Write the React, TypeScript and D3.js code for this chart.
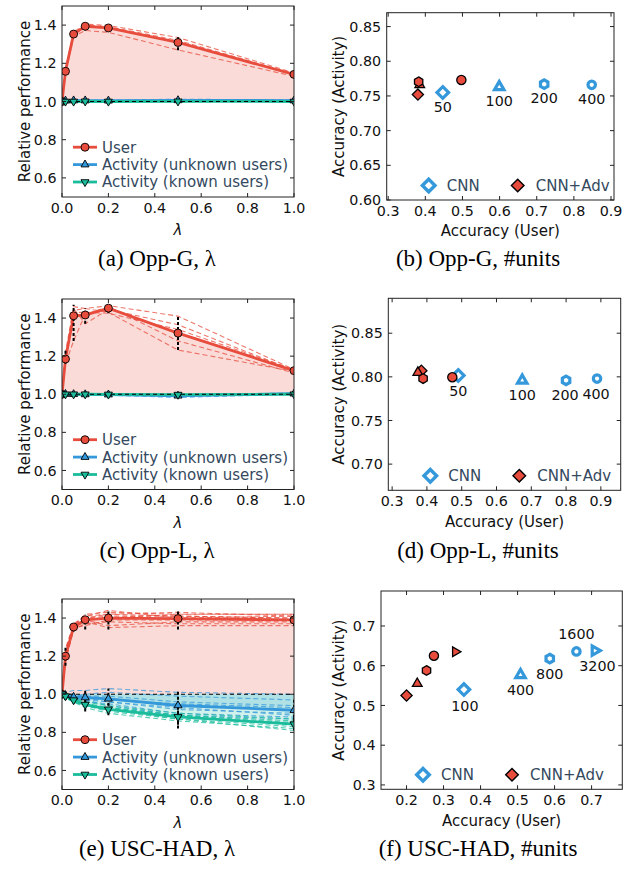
import React from "react";
import * as d3 from "d3";

// ---------------- data ----------------
const LAMBDAS = [0, 0.015, 0.05, 0.1, 0.2, 0.5, 1.0];
const LAMBDA_TICKS = [0, 0.2, 0.4, 0.6, 0.8, 1.0];
const REL_TICKS = [0.6, 0.8, 1.0, 1.2, 1.4];
const LINE_LEGEND = ["User", "Activity (unknown users)", "Activity (known users)"];
const SCATTER_LEGEND = ["CNN", "CNN+Adv"];

// (a) Opp-G, lambda
const A_USER = [1.0, 1.158, 1.353, 1.394, 1.385, 1.309, 1.142];
const A_USER_LO = [1.0, 1.14, 1.335, 1.372, 1.37, 1.268, 1.135];
const A_USER_HI = [1.0, 1.18, 1.37, 1.405, 1.398, 1.338, 1.15];
const A_USER_RUNS = [
  [1.0, 1.17, 1.365, 1.405, 1.398, 1.335, 1.15],
  [1.0, 1.145, 1.34, 1.372, 1.362, 1.27, 1.132],
  [1.0, 1.16, 1.355, 1.4, 1.392, 1.32, 1.145],
];
const A_UNK = [1.0, 1.004, 1.005, 1.005, 1.004, 1.006, 1.005];
const A_UNK_LO = [1.0, 0.998, 0.999, 0.999, 0.999, 0.996, 1.0];
const A_UNK_HI = [1.0, 1.01, 1.011, 1.01, 1.009, 1.016, 1.01];
const A_UNK_RUNS = [
  [1.0, 1.008, 1.009, 1.008, 1.007, 1.012, 1.008],
  [1.0, 1.0, 1.001, 1.002, 1.001, 1.0, 1.002],
];
const A_KNOWN = [1.0, 1.0, 1.0, 1.001, 1.0, 1.001, 1.0];
const A_KNOWN_LO = [1.0, 0.997, 0.998, 0.998, 0.997, 0.996, 0.998];
const A_KNOWN_HI = [1.0, 1.003, 1.002, 1.004, 1.003, 1.006, 1.002];
const A_KNOWN_RUNS = [
  [1.0, 1.002, 1.001, 1.003, 1.002, 1.004, 1.001],
  [1.0, 0.998, 0.999, 0.999, 0.998, 0.998, 0.999],
];

// (c) Opp-L, lambda
const C_USER = [1.0, 1.185, 1.412, 1.416, 1.452, 1.321, 1.124];
const C_USER_LO = [1.0, 1.16, 1.28, 1.37, 1.425, 1.232, 1.112];
const C_USER_HI = [1.0, 1.23, 1.47, 1.452, 1.47, 1.412, 1.132];
const C_USER_RUNS = [
  [1.0, 1.22, 1.46, 1.45, 1.465, 1.41, 1.13],
  [1.0, 1.18, 1.45, 1.37, 1.445, 1.365, 1.125],
  [1.0, 1.16, 1.28, 1.42, 1.46, 1.28, 1.112],
  [1.0, 1.19, 1.44, 1.45, 1.43, 1.232, 1.12],
  [1.0, 1.175, 1.43, 1.43, 1.425, 1.34, 1.13],
];
const C_UNK = [1.0, 1.001, 1.0, 0.999, 0.998, 0.992, 1.003];
const C_UNK_LO = [1.0, 0.995, 0.994, 0.993, 0.992, 0.98, 0.998];
const C_UNK_HI = [1.0, 1.006, 1.006, 1.005, 1.004, 1.003, 1.008];
const C_UNK_RUNS = [
  [1.0, 1.003, 1.002, 0.996, 0.995, 0.983, 1.0],
  [1.0, 0.999, 0.998, 1.001, 1.0, 0.998, 1.006],
];
const C_KNOWN = [1.0, 1.0, 1.0, 1.0, 0.999, 0.998, 1.0];
const C_KNOWN_LO = [1.0, 0.997, 0.997, 0.996, 0.996, 0.993, 0.997];
const C_KNOWN_HI = [1.0, 1.003, 1.003, 1.004, 1.002, 1.003, 1.003];
const C_KNOWN_RUNS = [
  [1.0, 1.002, 1.001, 1.001, 1.0, 0.996, 1.001],
  [1.0, 0.998, 0.999, 0.999, 0.998, 1.0, 0.999],
];

// (e) USC-HAD, lambda
const E_USER = [1.0, 1.2, 1.353, 1.391, 1.4, 1.397, 1.39];
const E_USER_LO = [1.0, 1.15, 1.33, 1.34, 1.34, 1.34, 1.36];
const E_USER_HI = [1.0, 1.25, 1.37, 1.42, 1.44, 1.44, 1.42];
const E_USER_RUNS = [
  [1.0, 1.22, 1.36, 1.42, 1.43, 1.42, 1.42],
  [1.0, 1.19, 1.35, 1.4, 1.41, 1.41, 1.4],
  [1.0, 1.24, 1.37, 1.41, 1.42, 1.43, 1.41],
  [1.0, 1.17, 1.34, 1.37, 1.38, 1.37, 1.37],
  [1.0, 1.21, 1.36, 1.39, 1.36, 1.38, 1.38],
  [1.0, 1.2, 1.35, 1.38, 1.35, 1.36, 1.36],
  [1.0, 1.18, 1.34, 1.4, 1.42, 1.41, 1.4],
  [1.0, 1.23, 1.36, 1.41, 1.44, 1.4, 1.41],
  [1.0, 1.19, 1.35, 1.36, 1.39, 1.39, 1.39],
  [1.0, 1.22, 1.36, 1.39, 1.4, 1.42, 1.42],
];
const E_UNK = [1.0, 0.995, 0.986, 0.983, 0.976, 0.941, 0.916];
const E_UNK_LO = [1.0, 0.97, 0.96, 0.95, 0.94, 0.84, 0.85];
const E_UNK_HI = [1.0, 1.02, 1.01, 1.02, 1.03, 1.02, 0.98];
const E_UNK_RUNS = [
  [1.0, 1.01, 1.02, 1.02, 1.03, 1.01, 1.0],
  [1.0, 1.0, 0.99, 1.0, 1.01, 0.99, 0.97],
  [1.0, 0.99, 0.98, 0.98, 0.97, 0.95, 0.93],
  [1.0, 0.99, 0.98, 0.97, 0.96, 0.92, 0.9],
  [1.0, 0.98, 0.97, 0.96, 0.95, 0.9, 0.88],
  [1.0, 1.0, 1.0, 0.99, 0.99, 0.96, 0.94],
  [1.0, 0.99, 0.99, 0.98, 0.96, 0.93, 0.89],
  [1.0, 1.0, 0.98, 0.97, 0.94, 0.89, 0.87],
];
const E_KNOWN = [1.0, 0.99, 0.969, 0.946, 0.921, 0.881, 0.843];
const E_KNOWN_LO = [1.0, 0.97, 0.95, 0.91, 0.89, 0.82, 0.81];
const E_KNOWN_HI = [1.0, 1.01, 0.99, 0.97, 0.95, 0.93, 0.88];
const E_KNOWN_RUNS = [
  [1.0, 0.99, 0.98, 0.96, 0.94, 0.9, 0.87],
  [1.0, 0.99, 0.97, 0.95, 0.93, 0.89, 0.86],
  [1.0, 0.98, 0.96, 0.94, 0.91, 0.87, 0.83],
  [1.0, 0.99, 0.97, 0.94, 0.92, 0.88, 0.84],
  [1.0, 0.98, 0.96, 0.93, 0.9, 0.86, 0.82],
  [1.0, 1.0, 0.98, 0.95, 0.93, 0.89, 0.85],
  [1.0, 0.99, 0.96, 0.94, 0.92, 0.87, 0.81],
];

// (b) Opp-G, #units
const B_UNITS = ["50", "100", "200", "400"];
const B_CNN_X = [0.447, 0.599, 0.72, 0.848];
const B_CNN_Y = [0.755, 0.763, 0.767, 0.766];
const B_ADV_X = [0.38, 0.385, 0.382, 0.497];
const B_ADV_Y = [0.752, 0.766, 0.7705, 0.773];
const B_X_TICKS = [0.3, 0.4, 0.5, 0.6, 0.7, 0.8, 0.9];
const B_Y_TICKS = [0.6, 0.65, 0.7, 0.75, 0.8, 0.85];

// (d) Opp-L, #units
const D_UNITS = ["50", "100", "200", "400"];
const D_CNN_X = [0.49, 0.674, 0.8, 0.889];
const D_CNN_Y = [0.8015, 0.796, 0.796, 0.798];
const D_ADV_X = [0.384, 0.374, 0.389, 0.473];
const D_ADV_Y = [0.807, 0.805, 0.798, 0.7995];
const D_X_TICKS = [0.3, 0.4, 0.5, 0.6, 0.7, 0.8, 0.9];
const D_Y_TICKS = [0.7, 0.75, 0.8, 0.85];

// (f) USC-HAD, #units
const F_UNITS = ["100", "400", "800", "1600", "3200"];
const F_CNN_X = [0.355, 0.508, 0.587, 0.659, 0.709];
const F_CNN_Y = [0.54, 0.577, 0.618, 0.636, 0.638];
const F_ADV_X = [0.2, 0.229, 0.254, 0.274, 0.332];
const F_ADV_Y = [0.525, 0.555, 0.588, 0.625, 0.635];
const F_X_TICKS = [0.2, 0.3, 0.4, 0.5, 0.6, 0.7];
const F_Y_TICKS = [0.3, 0.4, 0.5, 0.6, 0.7];

const SHAPES4 = ["diamond", "triangle", "hexagon", "circle"];
const SHAPES5 = ["diamond", "triangle", "hexagon", "circle", "triright"];

// ---------------- style ----------------
const RED = "#e74c3c";
const BLUE = "#3498db";
const TEAL = "#1abc9c";
const LEG_TEXT = "#34495e";
const SANS = "DejaVu Sans";
const SERIF = "Liberation Serif";
const TICK_FS = 14.3;
const LABEL_FS = 15;

function shapePath(shape: string, r: number): string {
  const s = 0.8660254;
  switch (shape) {
    case "circle":
      return `M${r},0A${r},${r} 0 1,1 ${-r},0A${r},${r} 0 1,1 ${r},0Z`;
    case "diamond":
      return `M0,${-r}L${r},0L0,${r}L${-r},0Z`;
    case "triangle":
      return `M0,${-r}L${r * s},${r * 0.5}L${-r * s},${r * 0.5}Z`;
    case "tridown":
      return `M0,${r}L${r * s},${-r * 0.5}L${-r * s},${-r * 0.5}Z`;
    case "triright":
      return `M${r},0L${-r * 0.5},${r * s}L${-r * 0.5},${-r * s}Z`;
    case "hexagon": {
      const pts = d3.range(6).map((k) => {
        const a = -Math.PI / 2 + (k * Math.PI) / 3;
        return `${r * Math.cos(a)},${r * Math.sin(a)}`;
      });
      return `M${pts.join("L")}Z`;
    }
  }
  return "";
}

function Frame({ x0, x1, y0, y1 }: { x0: number; x1: number; y0: number; y1: number }) {
  return <rect x={x0} y={y0} width={x1 - x0} height={y1 - y0} fill="none" stroke="#222" strokeWidth={1} />;
}

function Ticks(props: {
  x0: number; x1: number; y0: number; y1: number;
  xs: d3.ScaleLinear<number, number>; ys: d3.ScaleLinear<number, number>;
  xTicks: number[]; yTicks: number[]; xFmt: (v: number) => string; yFmt: (v: number) => string;
}) {
  const { x0, x1, y0, y1, xs, ys } = props;
  const L = 4;
  return (
    <g>
      {props.xTicks.map((t, i) => (
        <g key={"x" + i}>
          <line x1={xs(t)} x2={xs(t)} y1={y1} y2={y1 - L} stroke="#222" />
          <line x1={xs(t)} x2={xs(t)} y1={y0} y2={y0 + L} stroke="#222" />
          <text x={xs(t)} y={y1 + 15.5} textAnchor="middle" fontFamily={SANS} fontSize={TICK_FS} fill="#111">
            {props.xFmt(t)}
          </text>
        </g>
      ))}
      {props.yTicks.map((t, i) => (
        <g key={"y" + i}>
          <line x1={x0} x2={x0 + L} y1={ys(t)} y2={ys(t)} stroke="#222" />
          <line x1={x1} x2={x1 - L} y1={ys(t)} y2={ys(t)} stroke="#222" />
          <text x={x0 - 5.5} y={ys(t)} dy="0.36em" textAnchor="end" fontFamily={SANS} fontSize={TICK_FS} fill="#111">
            {props.yFmt(t)}
          </text>
        </g>
      ))}
    </g>
  );
}

type LineProps = {
  id: string; x0: number; x1: number; y0: number; y1: number;
  user: number[]; userLo: number[]; userHi: number[]; userRuns: number[][];
  unk: number[]; unkLo: number[]; unkHi: number[]; unkRuns: number[][];
  known: number[]; knownLo: number[]; knownHi: number[]; knownRuns: number[][];
};

function LinePanel(p: LineProps) {
  const { x0, x1, y0, y1 } = p;
  const xs = d3.scaleLinear().domain([0, 1]).range([x0, x1]);
  const ys = d3.scaleLinear().domain([0.5, 1.5]).range([y1, y0]);
  const line = d3.line<number>().x((_, i) => xs(LAMBDAS[i])).y((v) => ys(v));
  const area = d3.area<number>().x((_, i) => xs(LAMBDAS[i])).y0(ys(1)).y1((v) => ys(v));
  const series = [
    { vals: p.user, lo: p.userLo, hi: p.userHi, runs: p.userRuns, color: RED, shape: "circle", r: 4 },
    { vals: p.unk, lo: p.unkLo, hi: p.unkHi, runs: p.unkRuns, color: BLUE, shape: "triangle", r: 4.6 },
    { vals: p.known, lo: p.knownLo, hi: p.knownHi, runs: p.knownRuns, color: TEAL, shape: "tridown", r: 4.6 },
  ];
  const clipId = "clip-" + p.id;
  const fmt = d3.format(".1f");
  return (
    <g>
      <defs>
        <clipPath id={clipId}>
          <rect x={x0} y={y0} width={x1 - x0} height={y1 - y0} />
        </clipPath>
      </defs>
      <g clipPath={`url(#${clipId})`}>
        {series.map((s, k) => (
          <path key={"f" + k} d={area(s.vals) || ""} fill={s.color} fillOpacity={0.2} stroke="none" />
        ))}
        {series.map((s, k) =>
          s.runs.map((r, j) => (
            <path key={"r" + k + "-" + j} d={line(r) || ""} fill="none" stroke={s.color} strokeWidth={1.1}
              strokeDasharray="5,3" strokeOpacity={0.75} />
          ))
        )}
        {series.map((s, k) => (
          <path key={"l" + k} d={line(s.vals) || ""} fill="none" stroke={s.color} strokeWidth={2.8} />
        ))}
        <line x1={x0} x2={x1} y1={ys(1)} y2={ys(1)} stroke="#000" strokeWidth={1} strokeDasharray="4,3" />
        {series.map((s, k) =>
          LAMBDAS.map((l, i) =>
            s.hi[i] - s.lo[i] > 0.004 ? (
              <line key={"e" + k + "-" + i} x1={xs(l)} x2={xs(l)} y1={ys(s.lo[i])} y2={ys(s.hi[i])}
                stroke="#000" strokeWidth={2} strokeDasharray="3,2" />
            ) : null
          )
        )}
        {series.map((s, k) =>
          LAMBDAS.map((l, i) => (
            <path key={"m" + k + "-" + i} d={shapePath(s.shape, s.r)}
              transform={`translate(${xs(l)},${ys(s.vals[i])})`} fill={s.color} stroke="#000" strokeWidth={0.9} />
          ))
        )}
      </g>
      <Frame x0={x0} x1={x1} y0={y0} y1={y1} />
      <Ticks x0={x0} x1={x1} y0={y0} y1={y1} xs={xs} ys={ys} xTicks={LAMBDA_TICKS} yTicks={REL_TICKS}
        xFmt={fmt} yFmt={fmt} />
      {series.map((s, k) => {
        const ly = y1 - 15 - 17.4 * (2 - k);
        return (
          <g key={"lg" + k}>
            <line x1={x0 + 11} x2={x0 + 35} y1={ly} y2={ly} stroke={s.color} strokeWidth={2.8} />
            <path d={shapePath(s.shape, s.r)} transform={`translate(${x0 + 23},${ly})`} fill={s.color}
              stroke="#000" strokeWidth={0.9} />
            <text x={x0 + 40} y={ly} dy="0.36em" fontFamily={SANS} fontSize={LABEL_FS} fill={LEG_TEXT}>
              {LINE_LEGEND[k]}
            </text>
          </g>
        );
      })}
      <text transform={`translate(25,${(y0 + y1) / 2}) rotate(-90)`} dy="0.36em" textAnchor="middle"
        fontFamily={SANS} fontSize={LABEL_FS} fill="#111">
        Relative performance
      </text>
      <text x={(x0 + x1) / 2} y={y1 + 33} dy="0.36em" textAnchor="middle" fontFamily={SANS}
        fontStyle="italic" fontSize={LABEL_FS} fill="#111">
        λ
      </text>
    </g>
  );
}

type ScatterProps = {
  id: string; x0: number; x1: number; y0: number; y1: number;
  xDomain: [number, number]; yDomain: [number, number];
  xTicks: number[]; yTicks: number[]; yFmt: string;
  cnnX: number[]; cnnY: number[]; advX: number[]; advY: number[];
  units: string[]; shapes: string[];
  labelOffsets: [number, number][];
};

const CNN_R: Record<string, number> = { diamond: 5.8, triangle: 5.4, hexagon: 4.3, circle: 3.7, triright: 5.4 };
const ADV_R: Record<string, number> = { diamond: 5.6, triangle: 5.6, hexagon: 4.8, circle: 4.6, triright: 5.6 };

function ScatterPanel(p: ScatterProps) {
  const { x0, x1, y0, y1 } = p;
  const xs = d3.scaleLinear().domain(p.xDomain).range([x0, x1]);
  const ys = d3.scaleLinear().domain(p.yDomain).range([y1, y0]);
  const xf = d3.format(".1f");
  const yf = d3.format(p.yFmt);
  const ly = y1 - 14.5;
  return (
    <g>
      {p.cnnX.map((v, i) => (
        <path key={"c" + i} d={shapePath(p.shapes[i], CNN_R[p.shapes[i]])}
          transform={`translate(${xs(v)},${ys(p.cnnY[i])})`} fill="#fff" stroke={BLUE} strokeWidth={3.2} />
      ))}
      {p.advX.map((v, i) => (
        <path key={"a" + i} d={shapePath(p.shapes[i], ADV_R[p.shapes[i]])}
          transform={`translate(${xs(v)},${ys(p.advY[i])})`} fill={RED} stroke="#000" strokeWidth={1.3} />
      ))}
      {p.cnnX.map((v, i) => (
        <text key={"t" + i} x={xs(v) + p.labelOffsets[i][0]} y={ys(p.cnnY[i]) + p.labelOffsets[i][1]} dy="0.36em"
          textAnchor="middle" fontFamily={SANS} fontSize={TICK_FS} fill="#111">
          {p.units[i]}
        </text>
      ))}
      <Frame x0={x0} x1={x1} y0={y0} y1={y1} />
      <Ticks x0={x0} x1={x1} y0={y0} y1={y1} xs={xs} ys={ys} xTicks={p.xTicks} yTicks={p.yTicks}
        xFmt={xf} yFmt={yf} />
      <path d={shapePath("diamond", 6.3)} transform={`translate(${x0 + 42},${ly})`} fill="#fff" stroke={BLUE}
        strokeWidth={3.4} />
      <text x={x0 + 60} y={ly} dy="0.36em" fontFamily={SANS} fontSize={LABEL_FS} fill={LEG_TEXT}>
        {SCATTER_LEGEND[0]}
      </text>
      <path d={shapePath("diamond", 6.3)} transform={`translate(${x0 + 131},${ly})`} fill={RED} stroke="#000"
        strokeWidth={1.4} />
      <text x={x0 + 149} y={ly} dy="0.36em" fontFamily={SANS} fontSize={LABEL_FS} fill={LEG_TEXT}>
        {SCATTER_LEGEND[1]}
      </text>
      <text transform={`translate(338.5,${(y0 + y1) / 2}) rotate(-90)`} dy="0.36em" textAnchor="middle"
        fontFamily={SANS} fontSize={LABEL_FS} fill="#111">
        Accuracy (Activity)
      </text>
      <text x={(x0 + x1) / 2} y={y1 + 31} dy="0.36em" textAnchor="middle" fontFamily={SANS} fontSize={LABEL_FS}
        fill="#111">
        Accuracy (User)
      </text>
    </g>
  );
}

function Caption({ x, y, children }: { x: number; y: number; children: React.ReactNode }) {
  return (
    <text x={x} y={y} textAnchor="middle" fontFamily={SERIF} fontSize={23} fill="#000">
      {children}
    </text>
  );
}

export default function App() {
  return (
    <div style={{ position: "absolute", left: 0, top: 0 }}>
      <svg width={629} height={869} style={{ display: "block", background: "#fff" }}>
        <LinePanel id="a" x0={62} x1={294} y0={6} y1={197}
          user={A_USER} userLo={A_USER_LO} userHi={A_USER_HI} userRuns={A_USER_RUNS}
          unk={A_UNK} unkLo={A_UNK_LO} unkHi={A_UNK_HI} unkRuns={A_UNK_RUNS}
          known={A_KNOWN} knownLo={A_KNOWN_LO} knownHi={A_KNOWN_HI} knownRuns={A_KNOWN_RUNS} />
        <LinePanel id="c" x0={62} x1={294} y0={299} y1={489.5}
          user={C_USER} userLo={C_USER_LO} userHi={C_USER_HI} userRuns={C_USER_RUNS}
          unk={C_UNK} unkLo={C_UNK_LO} unkHi={C_UNK_HI} unkRuns={C_UNK_RUNS}
          known={C_KNOWN} knownLo={C_KNOWN_LO} knownHi={C_KNOWN_HI} knownRuns={C_KNOWN_RUNS} />
        <LinePanel id="e" x0={62} x1={294} y0={599} y1={789.5}
          user={E_USER} userLo={E_USER_LO} userHi={E_USER_HI} userRuns={E_USER_RUNS}
          unk={E_UNK} unkLo={E_UNK_LO} unkHi={E_UNK_HI} unkRuns={E_UNK_RUNS}
          known={E_KNOWN} knownLo={E_KNOWN_LO} knownHi={E_KNOWN_HI} knownRuns={E_KNOWN_RUNS} />
        <ScatterPanel id="b" x0={386.7} x1={614} y0={12.7} y1={200}
          xDomain={[0.296, 0.908]} yDomain={[0.6, 0.87]} xTicks={B_X_TICKS} yTicks={B_Y_TICKS} yFmt=".2f"
          cnnX={B_CNN_X} cnnY={B_CNN_Y} advX={B_ADV_X} advY={B_ADV_Y} units={B_UNITS} shapes={SHAPES4}
          labelOffsets={[[0, 14], [0, 13.5], [0, 13.5], [0, 14]]} />
        <ScatterPanel id="d" x0={388.3} x1={620.7} y0={298.3} y1={490.3}
          xDomain={[0.289, 0.957]} yDomain={[0.67, 0.89]} xTicks={D_X_TICKS} yTicks={D_Y_TICKS} yFmt=".2f"
          cnnX={D_CNN_X} cnnY={D_CNN_Y} advX={D_ADV_X} advY={D_ADV_Y} units={D_UNITS} shapes={SHAPES4}
          labelOffsets={[[0, 15], [0, 14.7], [-1, 15], [-1, 15]]} />
        <ScatterPanel id="f" x0={381} x1={622.3} y0={591} y1={789.3}
          xDomain={[0.131, 0.783]} yDomain={[0.289, 0.788]} xTicks={F_X_TICKS} yTicks={F_Y_TICKS} yFmt=".1f"
          cnnX={F_CNN_X} cnnY={F_CNN_Y} advX={F_ADV_X} advY={F_ADV_Y} units={F_UNITS} shapes={SHAPES5}
          labelOffsets={[[1, 16], [0, 15], [0, 15.3], [0, -17.3], [2.5, 15.7]]} />
        <Caption x={157} y={266}>(a) Opp-G, λ</Caption>
        <Caption x={478} y={266}>(b) Opp-G, #units</Caption>
        <Caption x={157} y={558}>(c) Opp-L, λ</Caption>
        <Caption x={478} y={558}>(d) Opp-L, #units</Caption>
        <Caption x={157} y={856}>(e) USC-HAD, λ</Caption>
        <Caption x={478} y={856}>(f) USC-HAD, #units</Caption>
      </svg>
    </div>
  );
}
